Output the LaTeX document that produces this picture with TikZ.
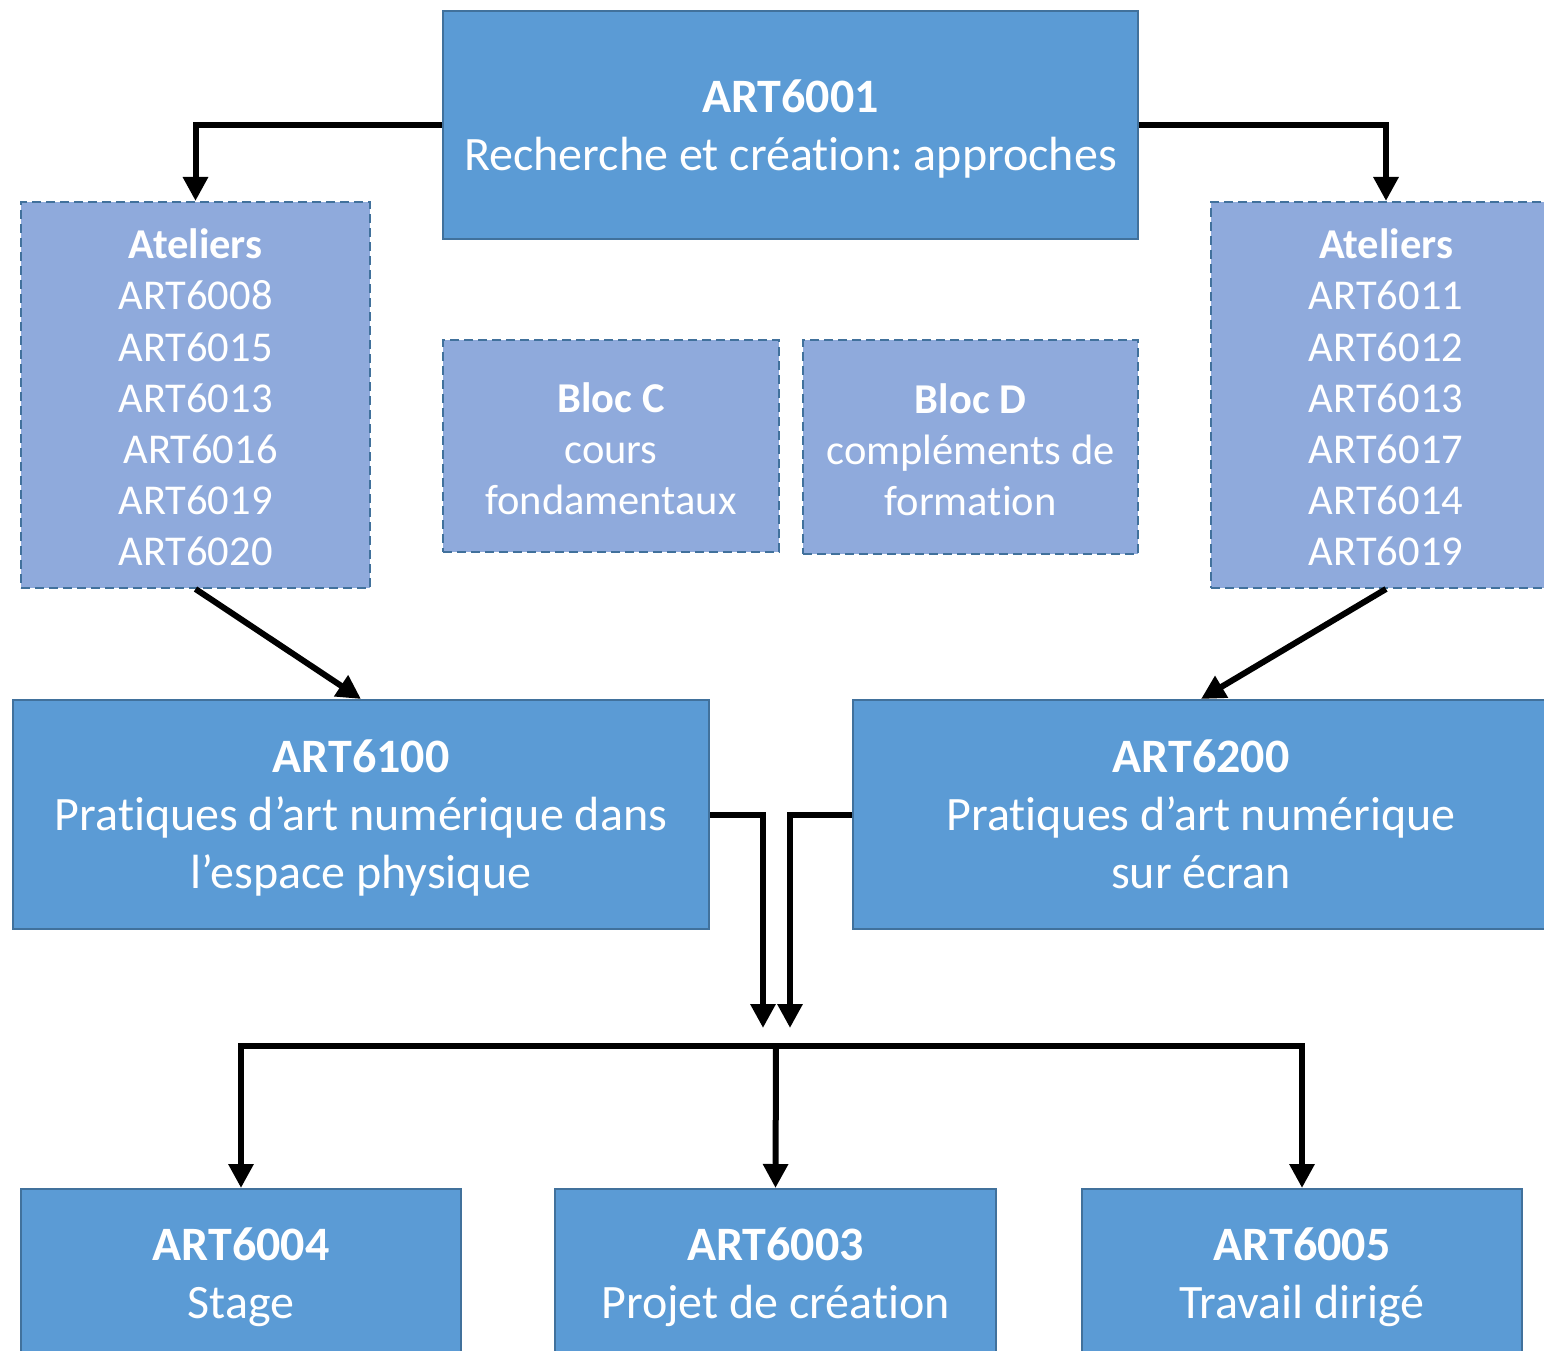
\documentclass[tikz,border=0pt]{standalone}
\usepackage{fontspec}
\setmainfont[Ligatures=NoCommon]{Carlito}
\frenchspacing
\usetikzlibrary{arrows.meta,
                positioning}
\definecolor{boxblue}{HTML}{5B9BD5}
\definecolor{boxline}{HTML}{41719C}
\definecolor{atlblue}{HTML}{8FAADC}
\newcommand\boxhead[1]{\textbf{\rule{0pt}{50pt}#1}}

\begin{document}
\begin{tikzpicture}[
x=1pt, y=-1pt,
  course/.style = {rectangle, draw=boxline, line width=2pt, fill=boxblue,
                   text=white, align=center, inner sep=0pt,
                   font=\fontsize{48}{58}\selectfont,
                   execute at end node=\strut},
 atelier/.style = {rectangle, draw=boxline, line width=2pt,
                   dash pattern=on 9pt off 5pt, fill=atlblue,
                   text=white, align=center, inner sep=0pt,
                   font=\fontsize{42.5}{51.2}\selectfont,
                   execute at end node=\strut},
    link/.style = {line width=6pt, -{Triangle[length=24pt,width=24pt]}},
                        ]
\useasboundingbox (0,0) rectangle (1544,1351);
% top
\node[course, minimum width=695pt, minimum height=227pt] (top) at (790.5,125)
      {\boxhead{ART6001}\\ Recherche et création: approches};
% ateliers
\node[atelier, minimum width=349pt, minimum height=386pt] (atl) at (195.5,395)
      {\boxhead{Ateliers}\\ ART6008\\ ART6015\\ ART6013\\ \hspace*{10pt}ART6016\\ ART6019\\ ART6020};
\node[atelier, minimum width=350pt, minimum height=386pt] (atr) at (1386,395)
      {\boxhead{Ateliers}\\ ART6011\\ ART6012\\ ART6013\\ ART6017\\ ART6014\\ ART6019};
% blocs
\node[atelier, minimum width=336pt, minimum height=212pt] (blocc) at (611,446)
      {\boxhead{Bloc C}\\ cours\\ fondamentaux};
\node[atelier, minimum width=335pt, minimum height=214pt] (blocd) at (970.5,447)
      {\boxhead{Bloc D}\\ compléments de\\ formation};
% pratiques
\node[course, minimum width=696pt, minimum height=229pt] (p100) at (361,814.5)
      {\boxhead{ART6100}\\ Pratiques d’art numérique dans\\ l’espace physique};
\node[course, minimum width=696pt, minimum height=229pt] (p200) at (1201,814.5)
      {\boxhead{ART6200}\\ Pratiques d’art numérique\\ sur écran};
% fin
\node[course, minimum width=440pt, minimum height=168pt] (s4) at (241,1273)
      {\boxhead{ART6004}\\ Stage};
\node[course, minimum width=441pt, minimum height=168pt] (s3) at (775.5,1273)
      {\boxhead{ART6003}\\ Projet de création};
\node[course, minimum width=440pt, minimum height=168pt] (s5) at (1302,1273)
      {\boxhead{ART6005}\\ Travail dirigé};

\coordinate (in1) at (763,1028);
\coordinate (in2) at (790,1028);
\coordinate (hub) at (776,1046);

\draw[link] (top.west) -| (atl.north);
\draw[link] (top.east) -| (atr.north);
\draw[link] (atl.south) -- (p100.north);
\draw[link] (atr.south) -- (p200.north);
\draw[link] (p100.east) -| (in1);
\draw[link] (p200.west) -| (in2);
\draw[link] (hub) -| (s4.north);
\draw[link] (hub) -- (s3.north);
\draw[link] (hub) -| (s5.north);
\end{tikzpicture}
\end{document}
